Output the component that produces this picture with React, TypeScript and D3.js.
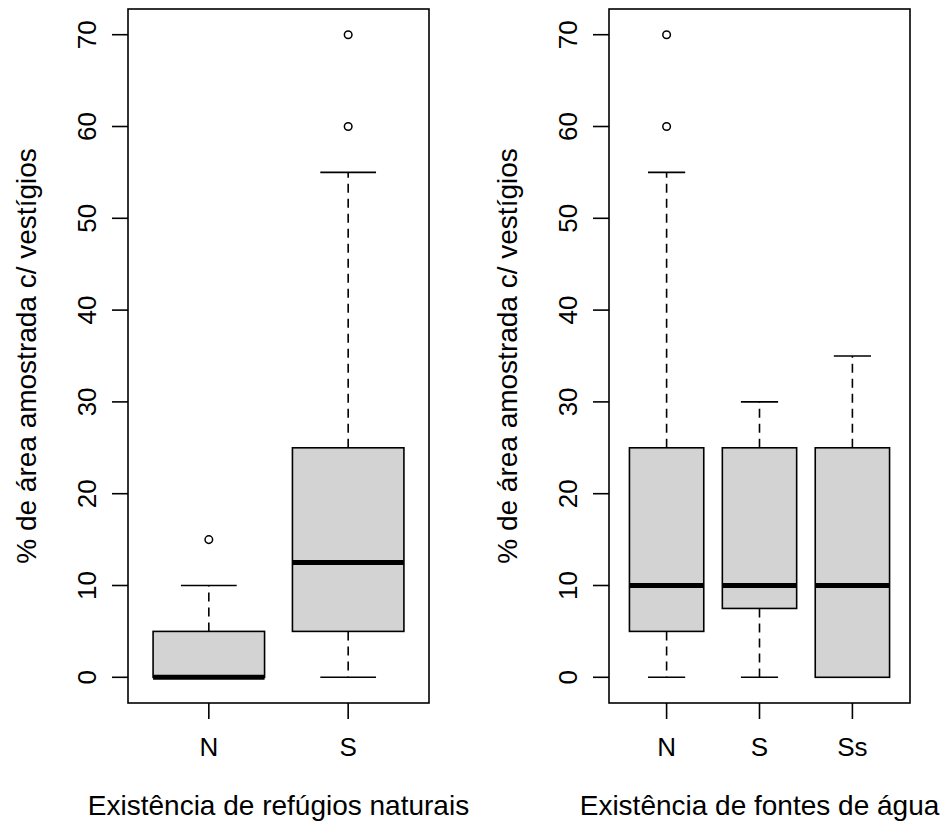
import React from 'react';
import * as d3 from 'd3';

// left panel: existência de refúgios naturais
const leftGroups = ['N', 'S'];
const leftMin = [0, 0];
const leftQ1 = [0, 5];
const leftMedian = [0, 12.5];
const leftQ3 = [5, 25];
const leftMax = [10, 55];
const leftOutliers = [[15], [60, 70]];

// right panel: existência de fontes de água
const rightGroups = ['N', 'S', 'Ss'];
const rightMin = [0, 0, 0];
const rightQ1 = [5, 7.5, 0];
const rightMedian = [10, 10, 10];
const rightQ3 = [25, 25, 25];
const rightMax = [55, 30, 35];
const rightOutliers = [[60, 70], [], []];

const yTicks = [0, 10, 20, 30, 40, 50, 60, 70];
const yTitle = '% de área amostrada c/ vestígios';

const FONT = '"Liberation Sans", Arial, Helvetica, sans-serif';

type PanelProps = {
  left: number;
  right: number;
  groups: string[];
  mins: number[];
  q1s: number[];
  medians: number[];
  q3s: number[];
  maxs: number[];
  outliers: number[][];
  xTitle: string;
};

function Panel({ left, right, groups, mins, q1s, medians, q3s, maxs, outliers, xTitle }: PanelProps) {
  const top = 9;
  const bottom = 703;
  const n = groups.length;
  const padX = n * 0.04;
  const x = d3.scaleLinear().domain([0.5 - padX, n + 0.5 + padX]).range([left, right]);
  const y = d3.scaleLinear().domain([-2.8, 72.8]).range([bottom, top]);
  const boxHalf = 0.4;
  const capHalf = 0.2;

  return (
    <g>
      {/* frame */}
      <rect x={left} y={top} width={right - left} height={bottom - top} fill="none" stroke="#000" strokeWidth={1.6} />

      {/* y axis */}
      {yTicks.map(t => (
        <g key={t}>
          <line x1={left - 16} x2={left} y1={y(t)} y2={y(t)} stroke="#000" strokeWidth={1.6} />
          <text
            transform={`translate(${left - 32},${y(t)}) rotate(-90)`}
            textAnchor="middle"
            fontFamily={FONT}
            fontSize={26}
            fill="#000"
          >
            {t}
          </text>
        </g>
      ))}
      <text
        transform={`translate(${left - 92},${(top + bottom) / 2}) rotate(-90)`}
        textAnchor="middle"
        fontFamily={FONT}
        fontSize={28}
        fill="#000"
      >
        {yTitle}
      </text>

      {/* x axis */}
      {groups.map((g, i) => (
        <g key={g}>
          <line x1={x(i + 1)} x2={x(i + 1)} y1={bottom} y2={bottom + 16} stroke="#000" strokeWidth={1.6} />
          <text x={x(i + 1)} y={756} textAnchor="middle" fontFamily={FONT} fontSize={26} fill="#000">
            {g}
          </text>
        </g>
      ))}
      <text x={(left + right) / 2} y={815} textAnchor="middle" fontFamily={FONT} fontSize={28} fill="#000">
        {xTitle}
      </text>

      {/* boxes */}
      {groups.map((g, i) => {
        const c = i + 1;
        return (
          <g key={'box' + g}>
            {q3s[i] < maxs[i] && (
              <line x1={x(c)} x2={x(c)} y1={y(q3s[i])} y2={y(maxs[i])} stroke="#000" strokeWidth={1.6} strokeDasharray="9,6" />
            )}
            {q1s[i] > mins[i] && (
              <line x1={x(c)} x2={x(c)} y1={y(q1s[i])} y2={y(mins[i])} stroke="#000" strokeWidth={1.6} strokeDasharray="9,6" />
            )}
            <line x1={x(c - capHalf)} x2={x(c + capHalf)} y1={y(maxs[i])} y2={y(maxs[i])} stroke="#000" strokeWidth={1.6} />
            <line x1={x(c - capHalf)} x2={x(c + capHalf)} y1={y(mins[i])} y2={y(mins[i])} stroke="#000" strokeWidth={1.6} />
            <rect
              x={x(c - boxHalf)}
              y={y(q3s[i])}
              width={x(c + boxHalf) - x(c - boxHalf)}
              height={y(q1s[i]) - y(q3s[i])}
              fill="#d3d3d3"
              stroke="#000"
              strokeWidth={1.6}
            />
            <line x1={x(c - boxHalf)} x2={x(c + boxHalf)} y1={y(medians[i])} y2={y(medians[i])} stroke="#000" strokeWidth={5} />
            {outliers[i].map(o => (
              <circle key={o} cx={x(c)} cy={y(o)} r={3.8} fill="none" stroke="#000" strokeWidth={1.5} />
            ))}
          </g>
        );
      })}
    </g>
  );
}

export default function App() {
  return (
    <svg width={944} height={821} style={{ position: 'absolute', left: 0, top: 0, background: '#fff' }}>
      <rect width={944} height={821} fill="#fff" />
      <Panel
        left={128}
        right={429}
        groups={leftGroups}
        mins={leftMin}
        q1s={leftQ1}
        medians={leftMedian}
        q3s={leftQ3}
        maxs={leftMax}
        outliers={leftOutliers}
        xTitle="Existência de refúgios naturais"
      />
      <Panel
        left={609}
        right={910}
        groups={rightGroups}
        mins={rightMin}
        q1s={rightQ1}
        medians={rightMedian}
        q3s={rightQ3}
        maxs={rightMax}
        outliers={rightOutliers}
        xTitle="Existência de fontes de água"
      />
    </svg>
  );
}
